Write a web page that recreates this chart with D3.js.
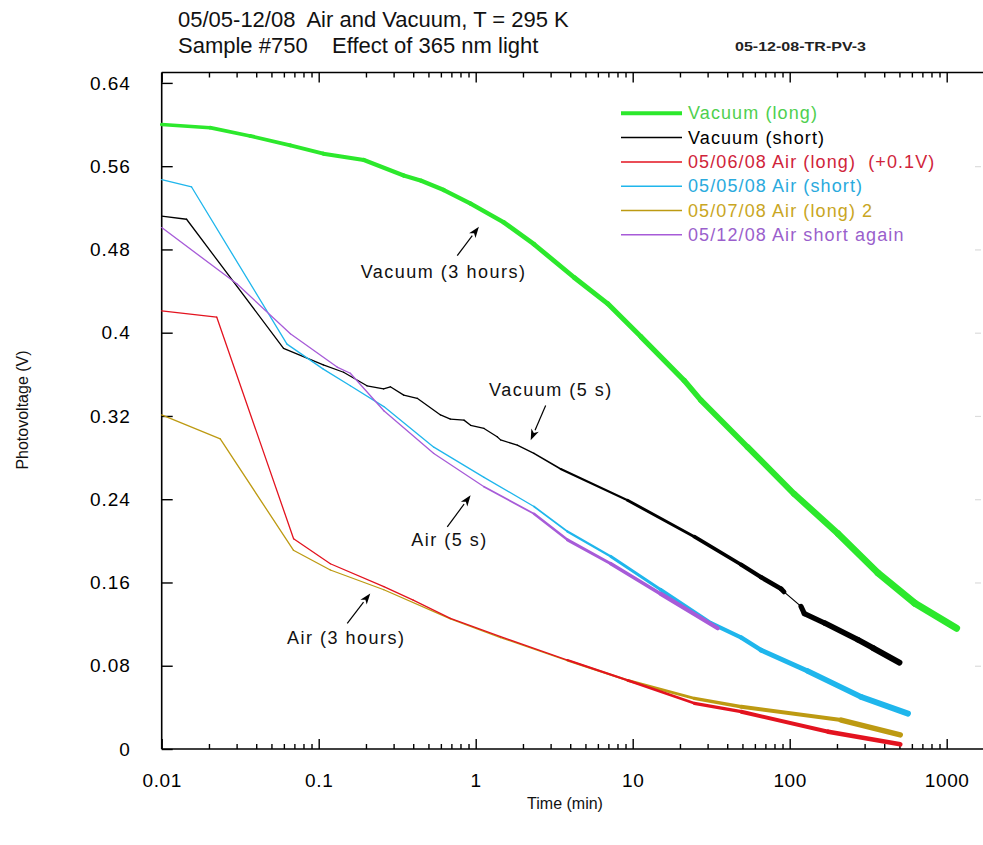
<!DOCTYPE html>
<html>
<head>
<meta charset="utf-8">
<script src="https://cdn.jsdelivr.net/npm/d3@7"></script>
<style>
  html, body { margin: 0; padding: 0; background: #fff; }
  svg { display: block; font-family: "Liberation Sans", Arial, sans-serif; }
  text { white-space: pre; }
</style>
</head>
<body>
<svg id="chart" width="983" height="845"></svg>
<script>
// ---- Photovoltage decay data (time in minutes, photovoltage in volts) ----
const vacLongTime  = [0.01, 0.0203, 0.0366, 0.066, 0.107, 0.194, 0.348, 0.45, 0.627, 0.928, 1.51, 2.35, 4.24, 6.92, 11.3, 21.3, 27.2, 54, 107, 203, 366, 627, 1156];
const vacLongV     = [0.600, 0.597, 0.589, 0.580, 0.572, 0.566, 0.551, 0.546, 0.537, 0.524, 0.506, 0.485, 0.453, 0.428, 0.396, 0.354, 0.335, 0.290, 0.245, 0.207, 0.169, 0.140, 0.116];

const vacShortTime = [0.01, 0.0144, 0.0597, 0.107, 0.144, 0.203, 0.259, 0.286, 0.348, 0.424, 0.597, 0.69, 0.842, 0.928, 1.13, 1.37, 1.44, 1.84, 2.35, 3.48, 9.27, 24.7, 49.2, 65.8, 88, 92, 118, 124, 167, 272, 340, 500];
const vacShortV    = [0.512, 0.509, 0.385, 0.369, 0.362, 0.349, 0.346, 0.348, 0.340, 0.337, 0.321, 0.317, 0.316, 0.311, 0.308, 0.300, 0.297, 0.292, 0.284, 0.269, 0.239, 0.204, 0.177, 0.165, 0.154, 0.151, 0.137, 0.130, 0.121, 0.105, 0.097, 0.083];

const airLongTime  = [0.01, 0.0224, 0.0692, 0.1186, 0.26, 0.40, 0.69, 1.44, 3.84, 9.27, 24.7, 49.2, 176, 506];
const airLongV     = [0.421, 0.415, 0.202, 0.178, 0.156, 0.143, 0.1255, 0.108, 0.0854, 0.066, 0.0439, 0.0358, 0.0166, 0.0045];

const airShortTime = [0.01, 0.0155, 0.0628, 0.107, 0.159, 0.26, 0.541, 1.13, 2.35, 3.84, 7.26, 15.1, 31.5, 49.2, 65.8, 130, 286, 567];
const airShortV    = [0.547, 0.540, 0.389, 0.365, 0.349, 0.329, 0.290, 0.261, 0.233, 0.209, 0.185, 0.153, 0.121, 0.107, 0.095, 0.075, 0.050, 0.034];

const airLong2Time = [0.01, 0.0236, 0.069, 0.1186, 0.26, 0.69, 1.44, 3.84, 9.27, 24.7, 49.2, 213, 506];
const airLong2V    = [0.321, 0.298, 0.191, 0.172, 0.153, 0.125, 0.107, 0.085, 0.066, 0.0486, 0.0406, 0.0278, 0.0135];

const airAgainTime = [0.01, 0.0301, 0.066, 0.131, 0.159, 0.26, 0.541, 1.13, 2.35, 3.84, 7.26, 15.1, 34.8];
const airAgainV    = [0.501, 0.447, 0.399, 0.367, 0.361, 0.325, 0.284, 0.252, 0.226, 0.201, 0.178, 0.149, 0.116];

const legendLabels = ["Vacuum (long)", "Vacuum (short)", "05/06/08 Air (long)  (+0.1V)", "05/05/08 Air (short)", "05/07/08 Air (long) 2", "05/12/08 Air short again"];

const xTickValues = [0.01, 0.1, 1, 10, 100, 1000];
const xTickLabels = ["0.01", "0.1", "1", "10", "100", "1000"];
const yTickValues = [0, 0.08, 0.16, 0.24, 0.32, 0.4, 0.48, 0.56, 0.64];
const yTickLabels = ["0", "0.08", "0.16", "0.24", "0.32", "0.4", "0.48", "0.56", "0.64"];

// Callouts: label, label anchor (t, V), arrow tail (t, V), arrow head (t, V)
const calloutText = ["Vacuum (3 hours)", "Vacuum (5 s)", "Air (5 s)", "Air (3 hours)"];
const calloutLabelAt = [[0.624, 0.458], [3.01, 0.3446], [0.681, 0.2006], [0.150, 0.1066]];
const calloutFrom = [[0.763, 0.474], [2.79, 0.330], [0.659, 0.2134], [0.152, 0.1207]];
const calloutTo   = [[1.048, 0.5017], [2.24, 0.2966], [0.928, 0.2438], [0.213, 0.1495]];

// ---- styling ----
// widths: [time, stroke width] stops, interpolated in log time (noisy traces get broader)
// thin: time spans drawn as a plain thin line (sparse readings)
const styles = [
  { t: vacLongTime,  v: vacLongV,  line: "#2ce82c", text: "#4fcf4f", legendW: 4,   widths: [[0.01, 3.5], [10, 5], [500, 7]], thin: [] },
  { t: vacShortTime, v: vacShortV, line: "#000000", text: "#000000", legendW: 1.5, widths: [[0.01, 1.3], [2, 1.3], [5, 2], [30, 3.5], [100, 5], [400, 6]], thin: [[91, 119]] },
  { t: airLongTime,  v: airLongV,  line: "#e3131f", text: "#d0243a", legendW: 1.5, widths: [[0.01, 1.3], [2, 1.3], [10, 2.5], [100, 4], [500, 5]], thin: [] },
  { t: airShortTime, v: airShortV, line: "#1fb6ec", text: "#2aaadd", legendW: 1.5, widths: [[0.01, 1.3], [2, 1.3], [10, 3], [100, 5], [500, 6]], thin: [] },
  { t: airLong2Time, v: airLong2V, line: "#bd9a12", text: "#c9a623", legendW: 1.5, widths: [[0.01, 1.3], [3, 1.3], [10, 2.5], [100, 4], [500, 6]], thin: [] },
  { t: airAgainTime, v: airAgainV, line: "#a75bd8", text: "#9a5fcc", legendW: 1.5, widths: [[0.01, 1.3], [1, 1.3], [5, 3], [30, 4.5]], thin: [] }
];
const drawOrder = [0, 1, 3, 5, 4, 2];

const W = 983, H = 845;
const plotLeft = 161.7, plotBottom = 749, plotTop = 72.5;

const x = d3.scaleLog().domain([0.01, 1000]).range([plotLeft, 946.7]);
const y = d3.scaleLinear().domain([0, 0.65]).range([plotBottom, plotTop]);

const svg = d3.select("#chart");

// ---- frame ----
const frame = svg.append("g").attr("stroke", "#000").attr("stroke-width", 1.6).attr("fill", "none");
frame.append("line").attr("x1", plotLeft).attr("x2", plotLeft).attr("y1", plotTop).attr("y2", plotBottom);
frame.append("line").attr("x1", plotLeft).attr("x2", W).attr("y1", plotBottom).attr("y2", plotBottom);
frame.append("line").attr("x1", plotLeft).attr("x2", W).attr("y1", plotTop).attr("y2", plotTop);

// minor tick positions 2..9 per decade
const minorTicks = [];
for (let d = 0.01; d < 2000; d *= 10) for (let k = 2; k <= 9; k++) { const v = d * k; if (x(v) < W) minorTicks.push(v); }

function styleAxis(g) {
  g.select(".domain").remove();
  g.selectAll(".tick line").attr("stroke", "#000").attr("stroke-width", 1.4);
}

// bottom axis
svg.append("g").attr("transform", `translate(0,${plotBottom})`)
  .call(d3.axisBottom(x).tickValues(minorTicks).tickSize(-5).tickFormat(""))
  .call(styleAxis);
svg.append("g").attr("transform", `translate(0,${plotBottom})`)
  .call(d3.axisBottom(x).tickValues(xTickValues).tickSize(-10).tickPadding(25)
    .tickFormat((d, i) => xTickLabels[i]))
  .call(styleAxis)
  .call(g => g.selectAll(".tick text").attr("font-size", 19).attr("fill", "#000")
    .attr("font-family", "Liberation Sans, Arial, sans-serif").style("letter-spacing", "0.6px"));

// top axis (ticks only)
svg.append("g").attr("transform", `translate(0,${plotTop})`)
  .call(d3.axisTop(x).tickValues(minorTicks).tickSize(-5).tickFormat(""))
  .call(styleAxis);
svg.append("g").attr("transform", `translate(0,${plotTop})`)
  .call(d3.axisTop(x).tickValues(xTickValues).tickSize(-10).tickFormat(""))
  .call(styleAxis);

// left axis
svg.append("g").attr("transform", `translate(${plotLeft},0)`)
  .call(d3.axisLeft(y).tickValues(yTickValues).tickSize(-11).tickPadding(31)
    .tickFormat((d, i) => yTickLabels[i]))
  .call(styleAxis)
  .call(g => g.selectAll(".tick text").attr("font-size", 19).attr("fill", "#000")
    .attr("font-family", "Liberation Sans, Arial, sans-serif").style("letter-spacing", "0.9px"));

// faint right-hand tick marks
svg.append("g").attr("transform", `translate(981,0)`)
  .call(d3.axisRight(y).tickValues(yTickValues.slice(1, -1)).tickSize(-6).tickFormat(""))
  .call(g => { g.select(".domain").remove(); g.selectAll(".tick line").attr("stroke", "#dcdcdc").attr("stroke-width", 1.2); });

// ---- traces ----
function widthAt(stops, t) {
  const lt = Math.log10(t);
  if (lt <= Math.log10(stops[0][0])) return stops[0][1];
  for (let i = 1; i < stops.length; i++) {
    const a = Math.log10(stops[i - 1][0]), b = Math.log10(stops[i][0]);
    if (lt <= b) return stops[i - 1][1] + (stops[i][1] - stops[i - 1][1]) * (lt - a) / (b - a);
  }
  return stops[stops.length - 1][1];
}

const traces = svg.append("g").attr("fill", "none").attr("stroke-linecap", "round").attr("stroke-linejoin", "round");
drawOrder.forEach(si => {
  const s = styles[si];
  const pts = s.t.map((t, i) => [t, s.v[i]]);
  const g = traces.append("g").attr("stroke", s.line);
  g.selectAll("line").data(d3.pairs(pts)).join("line")
    .attr("x1", d => x(d[0][0])).attr("y1", d => y(d[0][1]))
    .attr("x2", d => x(d[1][0])).attr("y2", d => y(d[1][1]))
    .attr("stroke-width", d => {
      const inThin = s.thin.some(r => d[0][0] >= r[0] && d[1][0] <= r[1]);
      return inThin ? 1.2 : widthAt(s.widths, Math.sqrt(d[0][0] * d[1][0]));
    });
});

// ---- callouts ----
const cg = svg.append("g");
calloutText.forEach((txt, i) => {
  const x1 = x(calloutFrom[i][0]), y1 = y(calloutFrom[i][1]);
  const x2 = x(calloutTo[i][0]), y2 = y(calloutTo[i][1]);
  const ang = Math.atan2(y2 - y1, x2 - x1);
  const L = 11, Wd = 4;
  const bx = x2 - L * Math.cos(ang), by = y2 - L * Math.sin(ang);
  cg.append("line").attr("x1", x1).attr("y1", y1).attr("x2", bx).attr("y2", by)
    .attr("stroke", "#000").attr("stroke-width", 1.2);
  cg.append("path")
    .attr("d", `M${x2},${y2}L${bx + Wd * Math.sin(ang)},${by - Wd * Math.cos(ang)}L${bx + 3 * Math.cos(ang)},${by + 3 * Math.sin(ang)}L${bx - Wd * Math.sin(ang)},${by + Wd * Math.cos(ang)}Z`)
    .attr("fill", "#000");
  cg.append("text").attr("x", x(calloutLabelAt[i][0])).attr("y", y(calloutLabelAt[i][1]))
    .attr("text-anchor", "middle").attr("dominant-baseline", "central")
    .attr("font-size", 18).style("letter-spacing", "1.5px").attr("fill", "#111").text(txt);
});

// ---- legend ----
const lg = svg.append("g");
const legendY0 = 113.3, legendDy = 24.3;
styles.forEach((s, i) => {
  const ly = legendY0 + i * legendDy;
  lg.append("line").attr("x1", 621).attr("x2", 682).attr("y1", ly).attr("y2", ly)
    .attr("stroke", s.line).attr("stroke-width", s.legendW);
  lg.append("text").attr("x", 688).attr("y", ly).attr("dominant-baseline", "central")
    .attr("font-size", 18).style("letter-spacing", "1.1px").attr("fill", s.text).text(legendLabels[i]);
});

// ---- titles ----
svg.append("text").attr("x", 178).attr("y", 27).attr("font-size", 22).attr("fill", "#111")
  .text("05/05-12/08  Air and Vacuum, T = 295 K");
svg.append("text").attr("x", 178).attr("y", 53).attr("font-size", 22).attr("fill", "#111")
  .text("Sample #750    Effect of 365 nm light");
svg.append("text").attr("x", 735).attr("y", 51).attr("font-size", 13).attr("font-weight", "bold")
  .attr("textLength", 131).attr("lengthAdjust", "spacingAndGlyphs").attr("fill", "#222")
  .text("05-12-08-TR-PV-3");

// axis titles
svg.append("text").attr("transform", "translate(28,410) rotate(-90)").attr("text-anchor", "middle")
  .attr("font-size", 16).attr("fill", "#111").text("Photovoltage (V)");
svg.append("text").attr("x", 565).attr("y", 809).attr("text-anchor", "middle")
  .attr("font-size", 16).attr("fill", "#111").text("Time (min)");
</script>
</body>
</html>
